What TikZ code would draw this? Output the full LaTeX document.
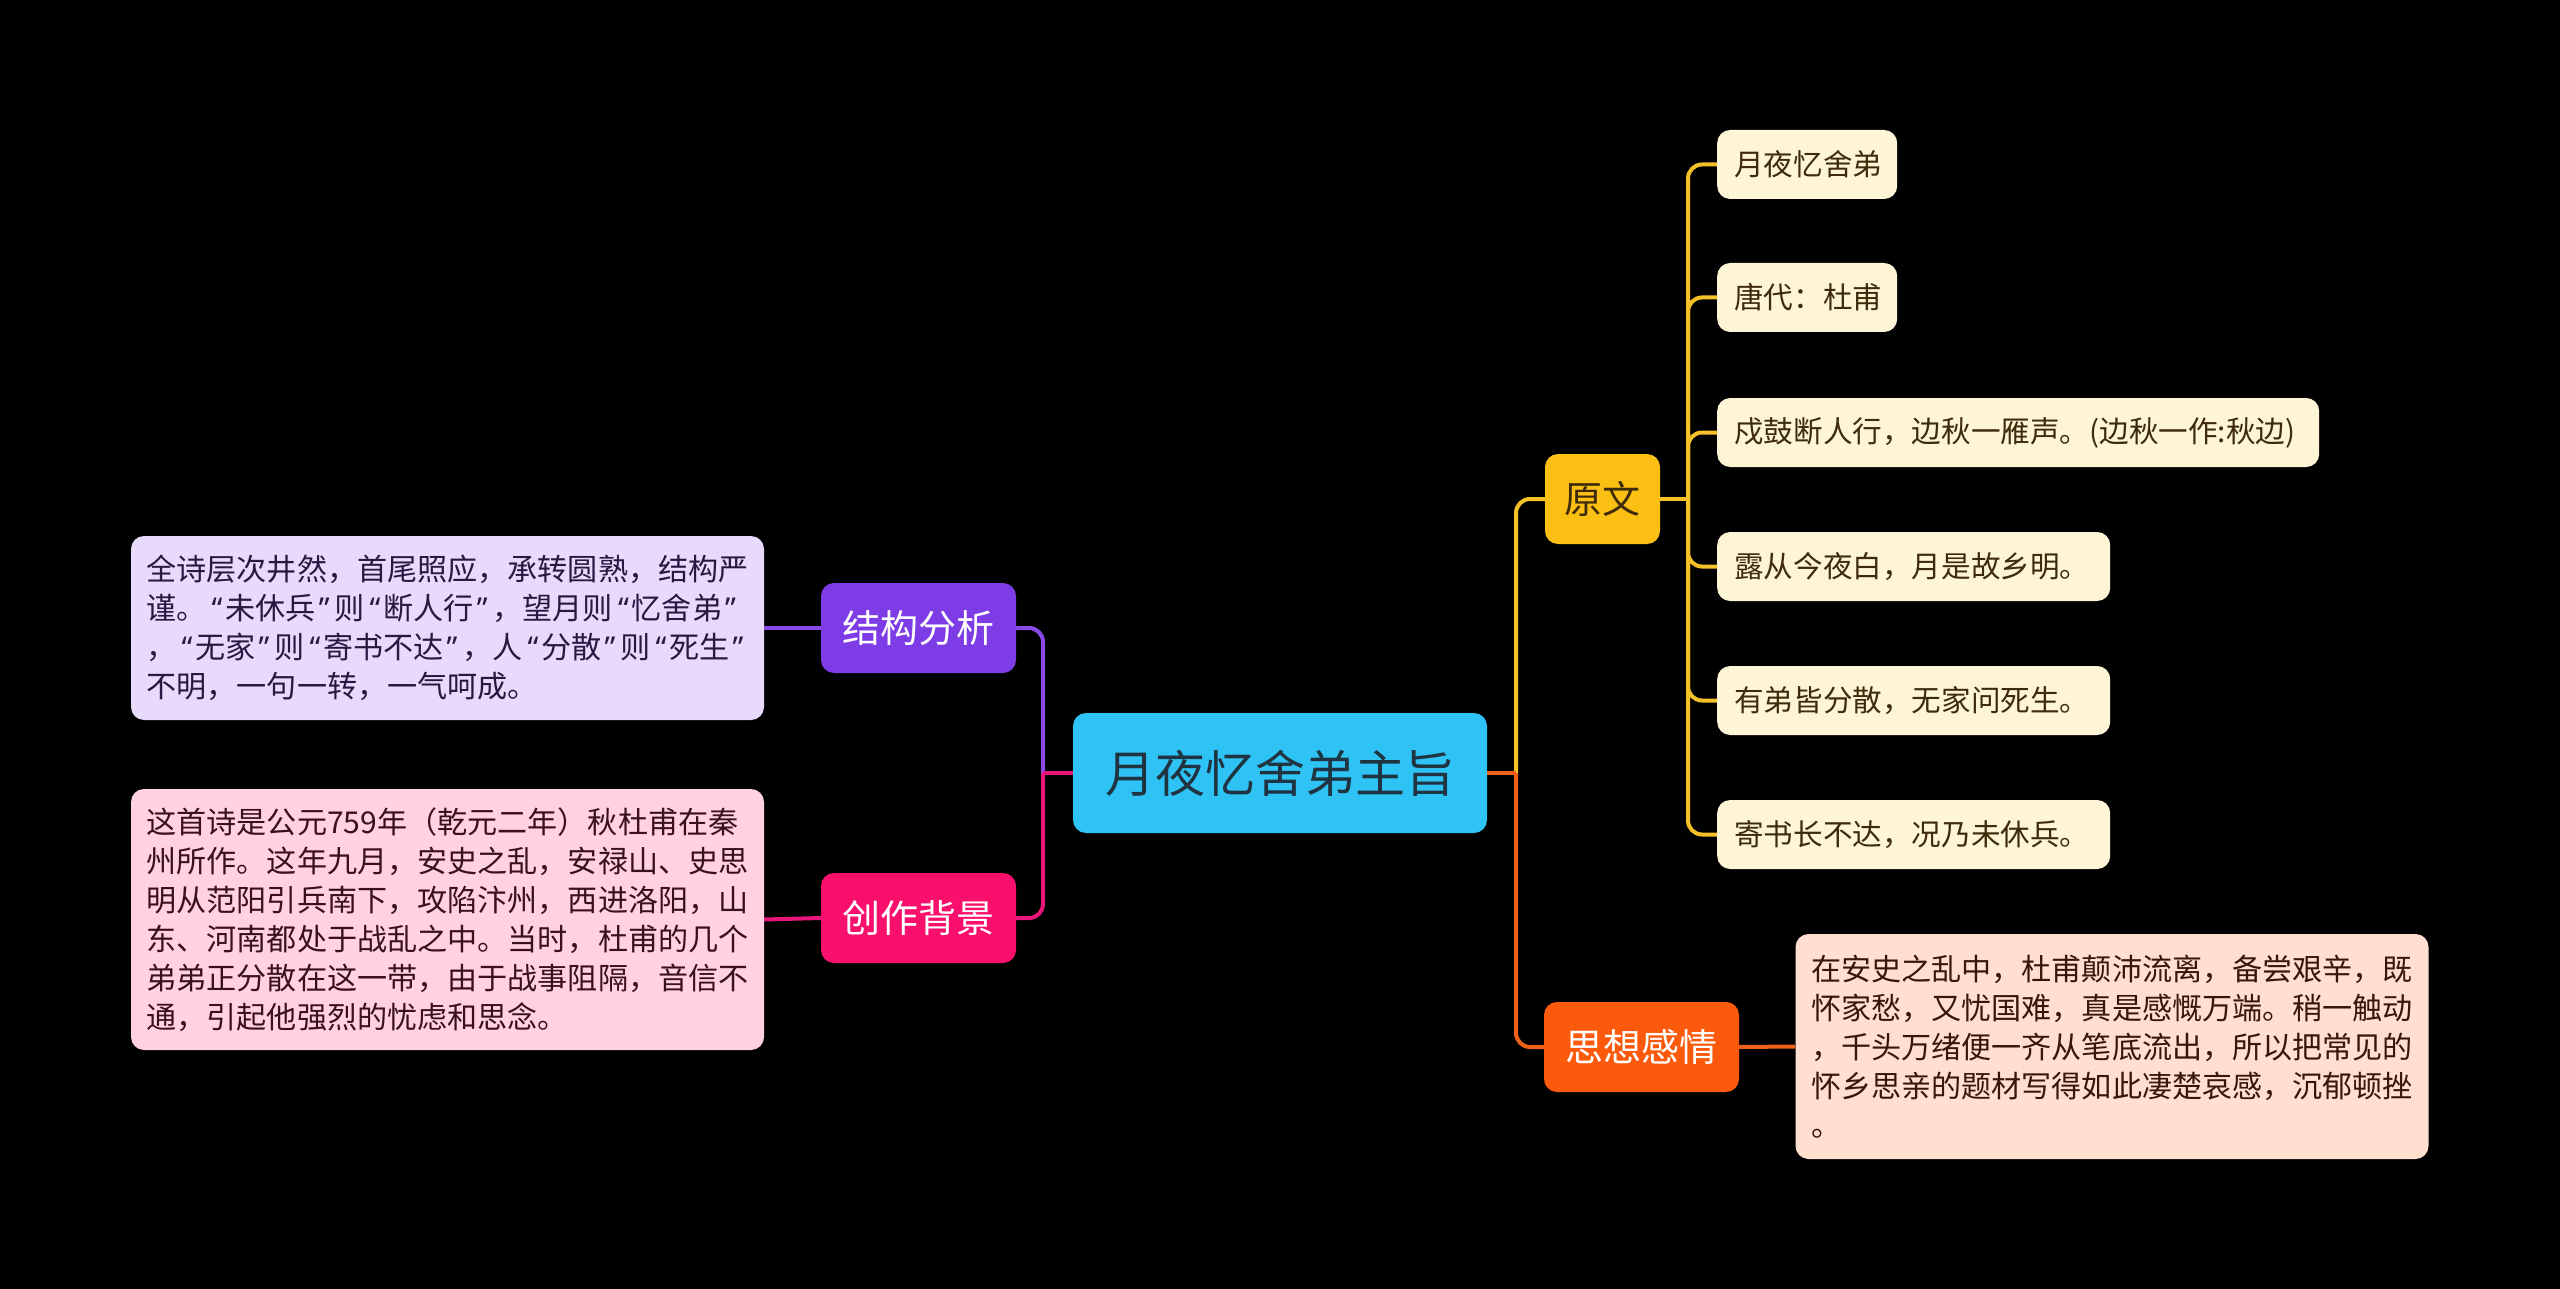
\documentclass[tikz,border=0pt]{standalone}
\usepackage{fontspec}
\setmainfont{Noto Sans CJK SC}
\newfontfamily\latinq{Noto Sans}
\newcommand{\qo}{\kern5pt{\latinq “}\kern3pt}
\newcommand{\qc}{\kern3pt{\latinq ”}\kern5pt}
\definecolor{bg}{HTML}{000000}
\definecolor{cmain}{HTML}{2FC3F5}
\definecolor{cmaintx}{HTML}{1F3440}
\definecolor{cpur}{HTML}{7D3CE6}
\definecolor{cpurline}{HTML}{8A4AE8}
\definecolor{cpurlt}{HTML}{E8DAFB}
\definecolor{cpurtx}{HTML}{2A1742}
\definecolor{cpink}{HTML}{F8106C}
\definecolor{cpinkline}{HTML}{E8167A}
\definecolor{cpinklt}{HTML}{FFD1E1}
\definecolor{cpinktx}{HTML}{3A0F1E}
\definecolor{cyel}{HTML}{FCBF14}
\definecolor{cyelline}{HTML}{F5C128}
\definecolor{cyellt}{HTML}{FEF5D7}
\definecolor{cyeltx}{HTML}{3D2B0A}
\definecolor{cora}{HTML}{FB5A0C}
\definecolor{coraline}{HTML}{EF6119}
\definecolor{coralt}{HTML}{FEDFD0}
\definecolor{coratx}{HTML}{3A1608}
\begin{document}
\begin{tikzpicture}[x=1pt,y=-1pt,
  box/.style={rounded corners=13pt, inner sep=0pt, align=center},
  mainbox/.style={box, fill=cmain, text=cmaintx, minimum width=414pt, minimum height=120pt, font=\fontsize{50}{60}\selectfont},
  subbox/.style={box, minimum height=90pt, text=white, font=\fontsize{38}{46}\selectfont},
  leafbox/.style={box, fill=cyellt, text=cyeltx, minimum height=69pt, anchor=west, align=left, inner xsep=17pt, font=\fontsize{29.6}{36}\selectfont},
  textbox/.style={box, align=left, inner xsep=15.5pt, text width=602pt, font=\fontsize{30.1}{39}\selectfont},
  conn/.style={line width=4pt, rounded corners=14pt}
]
\useasboundingbox (0,0) rectangle (2560,1289);
\fill[bg] (0,0) rectangle (2560,1289);

% nodes
\node[mainbox] (c) at (1280,773) {月夜忆舍弟主旨};
\node[subbox, fill=cpur, minimum width=195pt] (jg) at (918.5,628) {结构分析};
\node[subbox, fill=cpink, minimum width=195pt] (cz) at (918.5,918) {创作背景};
\node[subbox, fill=cyel, text=cyeltx, minimum width=115pt] (yw) at (1602.5,499) {原文};
\node[subbox, fill=cora, minimum width=195pt] (sx) at (1641.5,1047) {思想感情};

\node[leafbox, text width=146pt] (l1) at (1717,164.5) {月夜忆舍弟};
\node[leafbox, text width=146pt] (l2) at (1717,297.5) {唐代：杜甫};
\node[leafbox, text width=568pt] (l3) at (1717,432.5) {戍鼓断人行，边秋一雁声。(边秋一作:秋边)};
\node[leafbox, text width=359pt] (l4) at (1717,566.5) {露从今夜白，月是故乡明。};
\node[leafbox, text width=359pt] (l5) at (1717,700.5) {有弟皆分散，无家问死生。};
\node[leafbox, text width=359pt] (l6) at (1717,834.5) {寄书长不达，况乃未休兵。};

\node[textbox, fill=cpurlt, text=cpurtx, minimum height=184pt] (b1) at (447.5,628)
 {全诗层次井然，首尾照应，承转圆熟，结构严\\谨。\qo 未休兵\qc 则\qo 断人行\qc ，望月则\qo 忆舍弟\qc\\，\qo 无家\qc 则\qo 寄书不达\qc ，人\qo 分散\qc 则\qo 死生\qc\\不明，一句一转，一气呵成。};
\node[textbox, fill=cpinklt, text=cpinktx, minimum height=261pt] (b2) at (447.5,919.5)
 {这首诗是公元759年（乾元二年）秋杜甫在秦\\州所作。这年九月，安史之乱，安禄山、史思\\明从范阳引兵南下，攻陷汴州，西进洛阳，山\\东、河南都处于战乱之中。当时，杜甫的几个\\弟弟正分散在这一带，由于战事阻隔，音信不\\通，引起他强烈的忧虑和思念。};
\node[textbox, fill=coralt, text=coratx, minimum height=225pt] (b3) at (2112,1046.5)
 {在安史之乱中，杜甫颠沛流离，备尝艰辛，既\\怀家愁，又忧国难，真是感慨万端。稍一触动\\，千头万绪便一齐从笔底流出，所以把常见的\\怀乡思亲的题材写得如此凄楚哀感，沉郁顿挫\\。};

% junctions
\coordinate (jl) at (1043,773);
\coordinate (jr) at (1516,773);
\coordinate (jy) at (1688,499);

% left connectors
\draw[conn, cpurline] (jl) |- (jg.east);
\draw[conn, cpinkline] (jl) |- (cz.east);
\draw[line width=4pt, cpinkline] (c.west) -- (jl);
\draw[line width=4pt, cpurline] (jg.west) -- (b1.east);
\draw[line width=4pt, cpinkline] (cz.west) -- (b2.east);

% right connectors
\draw[conn, cyelline] (jr) |- (yw.west);
\draw[conn, coraline] (jr) |- (sx.west);
\draw[line width=4pt, coraline] (c.east) -- (jr);
\draw[line width=4pt, coraline] (sx.east) -- (b3.west);

% leaf connectors
\draw[line width=4pt, cyelline] (yw.east) -- (jy);
\foreach \l in {l1,l2,l3,l4,l5,l6}
  \draw[conn, cyelline] (jy) |- (\l.west);
\end{tikzpicture}
\end{document}
